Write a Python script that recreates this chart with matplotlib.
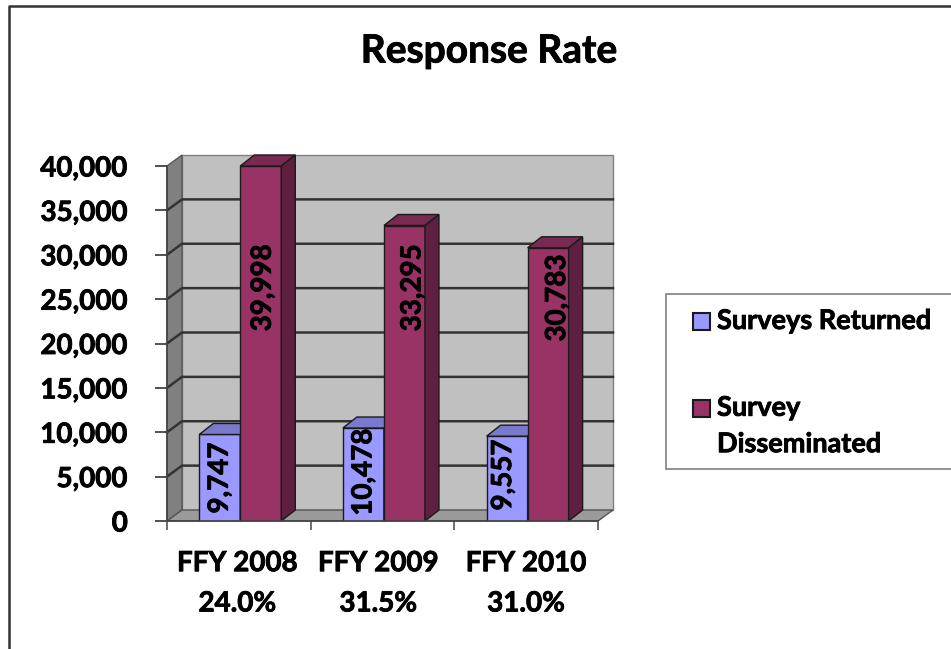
"""Response rate chart with a drawn 3-D look."""

import matplotlib

matplotlib.use("Agg")
import matplotlib.patheffects as pe
import matplotlib.pyplot as plt
from matplotlib.patches import Polygon, Rectangle
from matplotlib.text import Text

W, H = 951, 649

years = ["FFY 2008", "FFY 2009", "FFY 2010"]
rates = ["24.0%", "31.5%", "31.0%"]
returned = [9747, 10478, 9557]
disseminated = [39998, 33295, 30783]
y_ticks = [0, 5000, 10000, 15000, 20000, 25000, 30000, 35000, 40000]
series_names = ["Surveys Returned", "Survey\nDisseminated"]

BLUE = ("#9999ff", "#7a7acc", "#5c5c99")
MAROON = ("#993366", "#7a2952", "#5e1f40")
LINE = "#1a1a1a"

plt.rcParams["font.family"] = "Lato"
plt.rcParams["font.weight"] = "bold"

fig = plt.figure(figsize=(W / 100, H / 100), dpi=100)

# front plane of the chart, in pixels
left, right, bottom, top = 167, 598, 521, 166
ax = fig.add_axes([left / W, 1 - bottom / H, (right - left) / W, (bottom - top) / H])
ax.set_xlim(0, 3)
ax.set_ylim(0, 40000)
ax.patch.set_visible(False)
for spine in ax.spines.values():
    spine.set_visible(False)

# depth of the box and of the bars, in data units
depth_x = 15 / ((right - left) / 3)
depth_y = 11 / ((bottom - top) / 40000)
bar_dx = 14 / ((right - left) / 3)
bar_dy = 11 / ((bottom - top) / 40000)
bar_w = 0.2855
gap = (1 - 2 * bar_w) / 2

# hand placed data labels: pixel shift from bar centre, pixel height of label centre
blue_shift = [0, 0, -4]
red_shift = [2, 8, 9]
blue_label_y = [478, 472, 475]
red_label_y = [288, 288, 298]


def poly(points, face, zorder, lw=1.0, edge=LINE):
    ax.add_patch(Polygon(points, closed=True, facecolor=face, edgecolor=edge, linewidth=lw, zorder=zorder, clip_on=False))


# walls and floor
poly([(depth_x, depth_y), (3 + depth_x, depth_y), (3 + depth_x, 40000 + depth_y), (depth_x, 40000 + depth_y)], "#c0c0c0", 1, edge="#808080")
poly([(0, 0), (depth_x, depth_y), (depth_x, 40000 + depth_y), (0, 40000)], "#808080", 1.1, edge="#555555")
poly([(0, 0), (3, 0), (3 + depth_x, depth_y), (depth_x, depth_y)], "#9a9a9a", 1.1, edge="#555555")

for value in y_ticks[1:-1]:
    ax.plot([0, depth_x, 3 + depth_x], [value, value + depth_y, value + depth_y], color="#333333", lw=1.8, zorder=1.5, clip_on=False)


def draw_bar(x0, value, colors, zorder):
    x1 = x0 + bar_w
    ax.add_patch(Rectangle((x0, 0), bar_w, value, facecolor=colors[0], edgecolor=LINE, linewidth=1.0, zorder=zorder))
    poly([(x0, value), (x1, value), (x1 + bar_dx, value + bar_dy), (x0 + bar_dx, value + bar_dy)], colors[1], zorder)
    poly([(x1, 0), (x1 + bar_dx, bar_dy), (x1 + bar_dx, value + bar_dy), (x1, value)], colors[2], zorder)


def bar_label(x, shift, y_px, value):
    ax.annotate(f"{value:,}", (x, 0), xytext=(shift * 0.72, (bottom - y_px) * 0.72), textcoords="offset points",
                rotation=90, ha="center", va="center", fontsize=20, color="black", zorder=10)


for i in range(3):
    x_blue = i + gap + 0.01
    x_red = x_blue + bar_w
    draw_bar(x_blue, returned[i], BLUE, 3 + i)
    draw_bar(x_red, disseminated[i], MAROON, 3.5 + i)
    bar_label(x_blue + bar_w / 2, blue_shift[i], blue_label_y[i], returned[i])
    bar_label(x_red + bar_w / 2, red_shift[i], red_label_y[i], disseminated[i])

ax.set_yticks(y_ticks)
ax.set_yticklabels([f"{v:,}" for v in y_ticks], fontsize=20, color="black")
ax.set_xticks([0, 1, 2, 3])
ax.set_xticklabels([])
ax.tick_params(axis="y", length=8.6, width=1.2, color="#333333", pad=19.5)
ax.tick_params(axis="x", length=6.5, width=1.2, color="#555555")
ax.plot([0, 3], [0, 0], color="#444444", lw=1.2, zorder=9, clip_on=False)
ax.plot([0, 0], [0, 40000], color="#444444", lw=1.2, zorder=2, clip_on=False)

x_label_shift = [-1, -3, 0]
for i, (year, rate) in enumerate(zip(years, rates)):
    ax.annotate(f"{year}\n{rate}", (i + 0.5, 0), xytext=(x_label_shift[i], -21), textcoords="offset points",
                ha="center", va="top", fontsize=20, linespacing=1.68)

fig.text(489 / W, 1 - 51 / H, "Response Rate", ha="center", va="center", fontsize=28, color="black")

# outer frame and legend box, running off the right edge like the source
fig.add_artist(plt.Line2D([9 / W, 9 / W, 1], [0, 1 - 6 / H, 1 - 6 / H], color="#333333", lw=1.8))
fig.add_artist(Rectangle((666 / W, 1 - 469 / H), 300 / W, 175 / H, transform=fig.transFigure, facecolor="white", edgecolor="#808080", linewidth=1.2))

fig.add_artist(Rectangle((693 / W, 1 - 330 / H), 17 / W, 17 / H, transform=fig.transFigure, facecolor=BLUE[0], edgecolor=LINE, linewidth=1.5))
fig.add_artist(Rectangle((693 / W, 1 - 417 / H), 17 / W, 17 / H, transform=fig.transFigure, facecolor=MAROON[0], edgecolor=LINE, linewidth=1.5))
fig.text(717 / W, 1 - 321 / H, series_names[0], ha="left", va="center", fontsize=19.5)
fig.text(717 / W, 1 - 426 / H, series_names[1], ha="left", va="center", fontsize=19.5, linespacing=1.62)

# the source text is heavier than Lato Bold
for txt in fig.findobj(Text):
    txt.set_path_effects([pe.withStroke(linewidth=0.6, foreground="black")])

fig.savefig("out.png", dpi=100)
